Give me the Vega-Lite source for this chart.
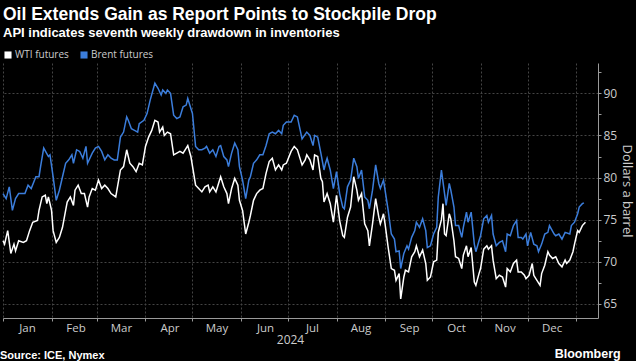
{
  "$schema": "https://vega.github.io/schema/vega-lite/v6.json",
  "background": "#000000",
  "padding": {"left": 0, "right": 3, "top": 5, "bottom": 0},
  "title": {
    "text": "Oil Extends Gain as Report Points to Stockpile Drop",
    "subtitle": "API indicates seventh weekly drawdown in inventories",
    "anchor": "start",
    "frame": "group",
    "font": "Liberation Sans",
    "fontSize": 17.5,
    "fontWeight": "bold",
    "color": "#ffffff",
    "subtitleFont": "Liberation Sans",
    "subtitleFontSize": 13,
    "subtitleFontWeight": "bold",
    "subtitleColor": "#ffffff",
    "subtitlePadding": 4,
    "offset": 10
  },
  "vconcat": [
    {
      "title": {
        "text": "Bloomberg",
        "orient": "bottom",
        "anchor": "end",
        "font": "Liberation Sans",
        "fontSize": 12.5,
        "fontWeight": "bold",
        "color": "#ffffff",
        "offset": -13,
        "dx": -12
      },
      "vconcat": [
        {
          "title": {
            "text": "Source: ICE, Nymex",
            "orient": "bottom",
            "anchor": "start",
            "font": "Liberation Sans",
            "fontSize": 11,
            "fontWeight": "bold",
            "color": "#ffffff",
            "offset": 4
          },
          "width": 595,
          "height": 255,
          "data": {
            "values": [
              {"date": "2024-01-01", "series": "Brent futures", "price": 78.1},
              {"date": "2024-01-03", "series": "Brent futures", "price": 77.5},
              {"date": "2024-01-05", "series": "Brent futures", "price": 78.9},
              {"date": "2024-01-07", "series": "Brent futures", "price": 76.1},
              {"date": "2024-01-09", "series": "Brent futures", "price": 77.5},
              {"date": "2024-01-11", "series": "Brent futures", "price": 78.1},
              {"date": "2024-01-15", "series": "Brent futures", "price": 78.1},
              {"date": "2024-01-17", "series": "Brent futures", "price": 79.1},
              {"date": "2024-01-19", "series": "Brent futures", "price": 78.7},
              {"date": "2024-01-22", "series": "Brent futures", "price": 80.1},
              {"date": "2024-01-24", "series": "Brent futures", "price": 80.1},
              {"date": "2024-01-25", "series": "Brent futures", "price": 81.3},
              {"date": "2024-01-27", "series": "Brent futures", "price": 83.5},
              {"date": "2024-01-30", "series": "Brent futures", "price": 82.5},
              {"date": "2024-01-31", "series": "Brent futures", "price": 82.7},
              {"date": "2024-02-02", "series": "Brent futures", "price": 80.1},
              {"date": "2024-02-04", "series": "Brent futures", "price": 77.3},
              {"date": "2024-02-06", "series": "Brent futures", "price": 78.5},
              {"date": "2024-02-08", "series": "Brent futures", "price": 80.1},
              {"date": "2024-02-10", "series": "Brent futures", "price": 81.7},
              {"date": "2024-02-12", "series": "Brent futures", "price": 82.1},
              {"date": "2024-02-14", "series": "Brent futures", "price": 82.7},
              {"date": "2024-02-15", "series": "Brent futures", "price": 81.7},
              {"date": "2024-02-17", "series": "Brent futures", "price": 83.3},
              {"date": "2024-02-19", "series": "Brent futures", "price": 83.1},
              {"date": "2024-02-21", "series": "Brent futures", "price": 82.3},
              {"date": "2024-02-23", "series": "Brent futures", "price": 83.7},
              {"date": "2024-02-24", "series": "Brent futures", "price": 81.7},
              {"date": "2024-02-27", "series": "Brent futures", "price": 82.9},
              {"date": "2024-02-29", "series": "Brent futures", "price": 83.5},
              {"date": "2024-03-02", "series": "Brent futures", "price": 83.7},
              {"date": "2024-03-04", "series": "Brent futures", "price": 83.1},
              {"date": "2024-03-06", "series": "Brent futures", "price": 82.1},
              {"date": "2024-03-08", "series": "Brent futures", "price": 82.7},
              {"date": "2024-03-10", "series": "Brent futures", "price": 82.3},
              {"date": "2024-03-12", "series": "Brent futures", "price": 82.1},
              {"date": "2024-03-14", "series": "Brent futures", "price": 82.1},
              {"date": "2024-03-16", "series": "Brent futures", "price": 84.8},
              {"date": "2024-03-18", "series": "Brent futures", "price": 85.4},
              {"date": "2024-03-20", "series": "Brent futures", "price": 87.2},
              {"date": "2024-03-21", "series": "Brent futures", "price": 86.8},
              {"date": "2024-03-23", "series": "Brent futures", "price": 85.8},
              {"date": "2024-03-25", "series": "Brent futures", "price": 85.6},
              {"date": "2024-03-27", "series": "Brent futures", "price": 85.4},
              {"date": "2024-03-28", "series": "Brent futures", "price": 86.4},
              {"date": "2024-03-31", "series": "Brent futures", "price": 86.8},
              {"date": "2024-04-02", "series": "Brent futures", "price": 87.6},
              {"date": "2024-04-04", "series": "Brent futures", "price": 89.2},
              {"date": "2024-04-07", "series": "Brent futures", "price": 91.2},
              {"date": "2024-04-09", "series": "Brent futures", "price": 90.6},
              {"date": "2024-04-11", "series": "Brent futures", "price": 89.8},
              {"date": "2024-04-12", "series": "Brent futures", "price": 90.4},
              {"date": "2024-04-14", "series": "Brent futures", "price": 90.0},
              {"date": "2024-04-15", "series": "Brent futures", "price": 90.4},
              {"date": "2024-04-17", "series": "Brent futures", "price": 90.0},
              {"date": "2024-04-19", "series": "Brent futures", "price": 87.4},
              {"date": "2024-04-21", "series": "Brent futures", "price": 87.0},
              {"date": "2024-04-23", "series": "Brent futures", "price": 87.2},
              {"date": "2024-04-25", "series": "Brent futures", "price": 88.4},
              {"date": "2024-04-27", "series": "Brent futures", "price": 88.6},
              {"date": "2024-04-28", "series": "Brent futures", "price": 89.4},
              {"date": "2024-04-29", "series": "Brent futures", "price": 88.8},
              {"date": "2024-05-01", "series": "Brent futures", "price": 87.6},
              {"date": "2024-05-03", "series": "Brent futures", "price": 83.7},
              {"date": "2024-05-05", "series": "Brent futures", "price": 83.3},
              {"date": "2024-05-07", "series": "Brent futures", "price": 83.3},
              {"date": "2024-05-09", "series": "Brent futures", "price": 83.5},
              {"date": "2024-05-10", "series": "Brent futures", "price": 83.7},
              {"date": "2024-05-12", "series": "Brent futures", "price": 82.9},
              {"date": "2024-05-14", "series": "Brent futures", "price": 83.3},
              {"date": "2024-05-16", "series": "Brent futures", "price": 82.5},
              {"date": "2024-05-18", "series": "Brent futures", "price": 83.7},
              {"date": "2024-05-19", "series": "Brent futures", "price": 83.8},
              {"date": "2024-05-21", "series": "Brent futures", "price": 82.5},
              {"date": "2024-05-23", "series": "Brent futures", "price": 82.1},
              {"date": "2024-05-24", "series": "Brent futures", "price": 81.3},
              {"date": "2024-05-26", "series": "Brent futures", "price": 82.9},
              {"date": "2024-05-28", "series": "Brent futures", "price": 84.1},
              {"date": "2024-05-30", "series": "Brent futures", "price": 83.3},
              {"date": "2024-05-31", "series": "Brent futures", "price": 81.3},
              {"date": "2024-06-02", "series": "Brent futures", "price": 79.7},
              {"date": "2024-06-04", "series": "Brent futures", "price": 77.5},
              {"date": "2024-06-06", "series": "Brent futures", "price": 79.7},
              {"date": "2024-06-07", "series": "Brent futures", "price": 80.1},
              {"date": "2024-06-09", "series": "Brent futures", "price": 81.7},
              {"date": "2024-06-11", "series": "Brent futures", "price": 82.1},
              {"date": "2024-06-13", "series": "Brent futures", "price": 82.7},
              {"date": "2024-06-15", "series": "Brent futures", "price": 82.7},
              {"date": "2024-06-17", "series": "Brent futures", "price": 83.8},
              {"date": "2024-06-19", "series": "Brent futures", "price": 85.2},
              {"date": "2024-06-21", "series": "Brent futures", "price": 85.4},
              {"date": "2024-06-23", "series": "Brent futures", "price": 85.2},
              {"date": "2024-06-25", "series": "Brent futures", "price": 85.6},
              {"date": "2024-06-27", "series": "Brent futures", "price": 85.2},
              {"date": "2024-06-28", "series": "Brent futures", "price": 86.2},
              {"date": "2024-06-30", "series": "Brent futures", "price": 86.6},
              {"date": "2024-07-03", "series": "Brent futures", "price": 86.6},
              {"date": "2024-07-05", "series": "Brent futures", "price": 87.4},
              {"date": "2024-07-07", "series": "Brent futures", "price": 87.2},
              {"date": "2024-07-10", "series": "Brent futures", "price": 84.6},
              {"date": "2024-07-13", "series": "Brent futures", "price": 85.4},
              {"date": "2024-07-15", "series": "Brent futures", "price": 85.0},
              {"date": "2024-07-17", "series": "Brent futures", "price": 83.8},
              {"date": "2024-07-18", "series": "Brent futures", "price": 85.0},
              {"date": "2024-07-20", "series": "Brent futures", "price": 84.8},
              {"date": "2024-07-22", "series": "Brent futures", "price": 82.9},
              {"date": "2024-07-24", "series": "Brent futures", "price": 80.9},
              {"date": "2024-07-25", "series": "Brent futures", "price": 81.7},
              {"date": "2024-07-26", "series": "Brent futures", "price": 82.3},
              {"date": "2024-07-28", "series": "Brent futures", "price": 80.9},
              {"date": "2024-07-30", "series": "Brent futures", "price": 78.7},
              {"date": "2024-08-01", "series": "Brent futures", "price": 80.7},
              {"date": "2024-08-03", "series": "Brent futures", "price": 78.1},
              {"date": "2024-08-05", "series": "Brent futures", "price": 76.5},
              {"date": "2024-08-06", "series": "Brent futures", "price": 76.3},
              {"date": "2024-08-08", "series": "Brent futures", "price": 78.9},
              {"date": "2024-08-10", "series": "Brent futures", "price": 79.7},
              {"date": "2024-08-12", "series": "Brent futures", "price": 82.3},
              {"date": "2024-08-14", "series": "Brent futures", "price": 81.3},
              {"date": "2024-08-15", "series": "Brent futures", "price": 79.9},
              {"date": "2024-08-17", "series": "Brent futures", "price": 80.9},
              {"date": "2024-08-19", "series": "Brent futures", "price": 77.7},
              {"date": "2024-08-21", "series": "Brent futures", "price": 77.3},
              {"date": "2024-08-22", "series": "Brent futures", "price": 76.3},
              {"date": "2024-08-24", "series": "Brent futures", "price": 78.5},
              {"date": "2024-08-26", "series": "Brent futures", "price": 81.5},
              {"date": "2024-08-28", "series": "Brent futures", "price": 79.3},
              {"date": "2024-08-29", "series": "Brent futures", "price": 78.7},
              {"date": "2024-08-31", "series": "Brent futures", "price": 79.7},
              {"date": "2024-09-01", "series": "Brent futures", "price": 78.5},
              {"date": "2024-09-03", "series": "Brent futures", "price": 76.1},
              {"date": "2024-09-05", "series": "Brent futures", "price": 73.3},
              {"date": "2024-09-07", "series": "Brent futures", "price": 72.7},
              {"date": "2024-09-08", "series": "Brent futures", "price": 71.2},
              {"date": "2024-09-10", "series": "Brent futures", "price": 71.3},
              {"date": "2024-09-11", "series": "Brent futures", "price": 69.2},
              {"date": "2024-09-13", "series": "Brent futures", "price": 71.0},
              {"date": "2024-09-15", "series": "Brent futures", "price": 71.9},
              {"date": "2024-09-16", "series": "Brent futures", "price": 71.5},
              {"date": "2024-09-18", "series": "Brent futures", "price": 72.9},
              {"date": "2024-09-20", "series": "Brent futures", "price": 73.7},
              {"date": "2024-09-21", "series": "Brent futures", "price": 74.7},
              {"date": "2024-09-23", "series": "Brent futures", "price": 74.1},
              {"date": "2024-09-25", "series": "Brent futures", "price": 75.1},
              {"date": "2024-09-27", "series": "Brent futures", "price": 73.7},
              {"date": "2024-09-28", "series": "Brent futures", "price": 71.7},
              {"date": "2024-09-30", "series": "Brent futures", "price": 71.9},
              {"date": "2024-10-02", "series": "Brent futures", "price": 73.3},
              {"date": "2024-10-04", "series": "Brent futures", "price": 74.1},
              {"date": "2024-10-05", "series": "Brent futures", "price": 77.7},
              {"date": "2024-10-07", "series": "Brent futures", "price": 80.9},
              {"date": "2024-10-09", "series": "Brent futures", "price": 78.1},
              {"date": "2024-10-10", "series": "Brent futures", "price": 76.7},
              {"date": "2024-10-12", "series": "Brent futures", "price": 79.3},
              {"date": "2024-10-13", "series": "Brent futures", "price": 78.5},
              {"date": "2024-10-15", "series": "Brent futures", "price": 76.5},
              {"date": "2024-10-16", "series": "Brent futures", "price": 74.3},
              {"date": "2024-10-18", "series": "Brent futures", "price": 74.3},
              {"date": "2024-10-20", "series": "Brent futures", "price": 72.9},
              {"date": "2024-10-21", "series": "Brent futures", "price": 74.1},
              {"date": "2024-10-23", "series": "Brent futures", "price": 75.9},
              {"date": "2024-10-24", "series": "Brent futures", "price": 74.7},
              {"date": "2024-10-26", "series": "Brent futures", "price": 75.9},
              {"date": "2024-10-28", "series": "Brent futures", "price": 72.1},
              {"date": "2024-10-29", "series": "Brent futures", "price": 71.2},
              {"date": "2024-10-31", "series": "Brent futures", "price": 72.5},
              {"date": "2024-11-01", "series": "Brent futures", "price": 73.1},
              {"date": "2024-11-03", "series": "Brent futures", "price": 75.1},
              {"date": "2024-11-05", "series": "Brent futures", "price": 75.5},
              {"date": "2024-11-06", "series": "Brent futures", "price": 74.7},
              {"date": "2024-11-08", "series": "Brent futures", "price": 75.5},
              {"date": "2024-11-09", "series": "Brent futures", "price": 73.3},
              {"date": "2024-11-11", "series": "Brent futures", "price": 71.9},
              {"date": "2024-11-13", "series": "Brent futures", "price": 72.3},
              {"date": "2024-11-15", "series": "Brent futures", "price": 72.5},
              {"date": "2024-11-17", "series": "Brent futures", "price": 71.2},
              {"date": "2024-11-18", "series": "Brent futures", "price": 73.3},
              {"date": "2024-11-20", "series": "Brent futures", "price": 73.1},
              {"date": "2024-11-22", "series": "Brent futures", "price": 74.3},
              {"date": "2024-11-24", "series": "Brent futures", "price": 74.9},
              {"date": "2024-11-25", "series": "Brent futures", "price": 72.9},
              {"date": "2024-11-27", "series": "Brent futures", "price": 72.9},
              {"date": "2024-11-28", "series": "Brent futures", "price": 72.7},
              {"date": "2024-11-30", "series": "Brent futures", "price": 73.3},
              {"date": "2024-12-01", "series": "Brent futures", "price": 71.9},
              {"date": "2024-12-03", "series": "Brent futures", "price": 73.5},
              {"date": "2024-12-05", "series": "Brent futures", "price": 72.1},
              {"date": "2024-12-07", "series": "Brent futures", "price": 71.9},
              {"date": "2024-12-08", "series": "Brent futures", "price": 71.2},
              {"date": "2024-12-10", "series": "Brent futures", "price": 72.1},
              {"date": "2024-12-12", "series": "Brent futures", "price": 73.3},
              {"date": "2024-12-14", "series": "Brent futures", "price": 73.5},
              {"date": "2024-12-15", "series": "Brent futures", "price": 74.3},
              {"date": "2024-12-18", "series": "Brent futures", "price": 73.3},
              {"date": "2024-12-19", "series": "Brent futures", "price": 73.1},
              {"date": "2024-12-21", "series": "Brent futures", "price": 73.3},
              {"date": "2024-12-23", "series": "Brent futures", "price": 72.7},
              {"date": "2024-12-25", "series": "Brent futures", "price": 73.5},
              {"date": "2024-12-28", "series": "Brent futures", "price": 73.3},
              {"date": "2024-12-29", "series": "Brent futures", "price": 74.3},
              {"date": "2024-12-31", "series": "Brent futures", "price": 74.7},
              {"date": "2025-01-02", "series": "Brent futures", "price": 75.7},
              {"date": "2025-01-03", "series": "Brent futures", "price": 76.5},
              {"date": "2025-01-05", "series": "Brent futures", "price": 76.9},
              {"date": "2025-01-06", "series": "Brent futures", "price": 77.0},
              {"date": "2024-01-01", "series": "WTI futures", "price": 72.5},
              {"date": "2024-01-02", "series": "WTI futures", "price": 72.1},
              {"date": "2024-01-04", "series": "WTI futures", "price": 73.7},
              {"date": "2024-01-06", "series": "WTI futures", "price": 71.0},
              {"date": "2024-01-08", "series": "WTI futures", "price": 72.1},
              {"date": "2024-01-09", "series": "WTI futures", "price": 71.3},
              {"date": "2024-01-11", "series": "WTI futures", "price": 72.5},
              {"date": "2024-01-14", "series": "WTI futures", "price": 72.3},
              {"date": "2024-01-16", "series": "WTI futures", "price": 72.5},
              {"date": "2024-01-18", "series": "WTI futures", "price": 73.7},
              {"date": "2024-01-20", "series": "WTI futures", "price": 74.7},
              {"date": "2024-01-23", "series": "WTI futures", "price": 74.9},
              {"date": "2024-01-24", "series": "WTI futures", "price": 76.1},
              {"date": "2024-01-26", "series": "WTI futures", "price": 77.7},
              {"date": "2024-01-28", "series": "WTI futures", "price": 77.9},
              {"date": "2024-01-29", "series": "WTI futures", "price": 76.9},
              {"date": "2024-01-30", "series": "WTI futures", "price": 77.7},
              {"date": "2024-02-01", "series": "WTI futures", "price": 76.1},
              {"date": "2024-02-02", "series": "WTI futures", "price": 73.7},
              {"date": "2024-02-04", "series": "WTI futures", "price": 72.3},
              {"date": "2024-02-06", "series": "WTI futures", "price": 72.9},
              {"date": "2024-02-08", "series": "WTI futures", "price": 74.1},
              {"date": "2024-02-10", "series": "WTI futures", "price": 76.1},
              {"date": "2024-02-11", "series": "WTI futures", "price": 77.1},
              {"date": "2024-02-13", "series": "WTI futures", "price": 77.7},
              {"date": "2024-02-15", "series": "WTI futures", "price": 76.7},
              {"date": "2024-02-16", "series": "WTI futures", "price": 78.5},
              {"date": "2024-02-18", "series": "WTI futures", "price": 79.1},
              {"date": "2024-02-20", "series": "WTI futures", "price": 78.1},
              {"date": "2024-02-22", "series": "WTI futures", "price": 78.1},
              {"date": "2024-02-24", "series": "WTI futures", "price": 76.5},
              {"date": "2024-02-25", "series": "WTI futures", "price": 77.7},
              {"date": "2024-02-27", "series": "WTI futures", "price": 78.7},
              {"date": "2024-02-29", "series": "WTI futures", "price": 78.5},
              {"date": "2024-03-02", "series": "WTI futures", "price": 79.7},
              {"date": "2024-03-04", "series": "WTI futures", "price": 78.7},
              {"date": "2024-03-06", "series": "WTI futures", "price": 79.1},
              {"date": "2024-03-08", "series": "WTI futures", "price": 78.7},
              {"date": "2024-03-10", "series": "WTI futures", "price": 78.1},
              {"date": "2024-03-13", "series": "WTI futures", "price": 77.7},
              {"date": "2024-03-16", "series": "WTI futures", "price": 80.9},
              {"date": "2024-03-18", "series": "WTI futures", "price": 81.3},
              {"date": "2024-03-20", "series": "WTI futures", "price": 83.3},
              {"date": "2024-03-22", "series": "WTI futures", "price": 81.7},
              {"date": "2024-03-24", "series": "WTI futures", "price": 81.3},
              {"date": "2024-03-26", "series": "WTI futures", "price": 80.7},
              {"date": "2024-03-28", "series": "WTI futures", "price": 81.7},
              {"date": "2024-03-30", "series": "WTI futures", "price": 81.5},
              {"date": "2024-04-01", "series": "WTI futures", "price": 83.7},
              {"date": "2024-04-03", "series": "WTI futures", "price": 84.8},
              {"date": "2024-04-05", "series": "WTI futures", "price": 85.6},
              {"date": "2024-04-07", "series": "WTI futures", "price": 86.8},
              {"date": "2024-04-09", "series": "WTI futures", "price": 86.6},
              {"date": "2024-04-10", "series": "WTI futures", "price": 85.4},
              {"date": "2024-04-12", "series": "WTI futures", "price": 86.0},
              {"date": "2024-04-13", "series": "WTI futures", "price": 85.0},
              {"date": "2024-04-15", "series": "WTI futures", "price": 85.4},
              {"date": "2024-04-17", "series": "WTI futures", "price": 85.2},
              {"date": "2024-04-19", "series": "WTI futures", "price": 82.7},
              {"date": "2024-04-21", "series": "WTI futures", "price": 82.9},
              {"date": "2024-04-23", "series": "WTI futures", "price": 83.1},
              {"date": "2024-04-25", "series": "WTI futures", "price": 82.9},
              {"date": "2024-04-27", "series": "WTI futures", "price": 83.5},
              {"date": "2024-04-28", "series": "WTI futures", "price": 83.8},
              {"date": "2024-04-30", "series": "WTI futures", "price": 82.5},
              {"date": "2024-05-03", "series": "WTI futures", "price": 79.1},
              {"date": "2024-05-05", "series": "WTI futures", "price": 78.7},
              {"date": "2024-05-07", "series": "WTI futures", "price": 78.3},
              {"date": "2024-05-09", "series": "WTI futures", "price": 78.9},
              {"date": "2024-05-11", "series": "WTI futures", "price": 79.1},
              {"date": "2024-05-12", "series": "WTI futures", "price": 78.3},
              {"date": "2024-05-14", "series": "WTI futures", "price": 78.9},
              {"date": "2024-05-16", "series": "WTI futures", "price": 78.3},
              {"date": "2024-05-18", "series": "WTI futures", "price": 79.5},
              {"date": "2024-05-19", "series": "WTI futures", "price": 80.1},
              {"date": "2024-05-21", "series": "WTI futures", "price": 78.9},
              {"date": "2024-05-23", "series": "WTI futures", "price": 78.1},
              {"date": "2024-05-24", "series": "WTI futures", "price": 76.9},
              {"date": "2024-05-26", "series": "WTI futures", "price": 78.7},
              {"date": "2024-05-28", "series": "WTI futures", "price": 79.9},
              {"date": "2024-05-30", "series": "WTI futures", "price": 79.1},
              {"date": "2024-05-31", "series": "WTI futures", "price": 77.3},
              {"date": "2024-06-02", "series": "WTI futures", "price": 76.1},
              {"date": "2024-06-04", "series": "WTI futures", "price": 73.3},
              {"date": "2024-06-06", "series": "WTI futures", "price": 74.7},
              {"date": "2024-06-07", "series": "WTI futures", "price": 75.5},
              {"date": "2024-06-09", "series": "WTI futures", "price": 77.3},
              {"date": "2024-06-11", "series": "WTI futures", "price": 78.1},
              {"date": "2024-06-13", "series": "WTI futures", "price": 78.5},
              {"date": "2024-06-15", "series": "WTI futures", "price": 78.7},
              {"date": "2024-06-17", "series": "WTI futures", "price": 80.5},
              {"date": "2024-06-19", "series": "WTI futures", "price": 81.9},
              {"date": "2024-06-21", "series": "WTI futures", "price": 82.3},
              {"date": "2024-06-23", "series": "WTI futures", "price": 80.9},
              {"date": "2024-06-25", "series": "WTI futures", "price": 81.5},
              {"date": "2024-06-27", "series": "WTI futures", "price": 80.9},
              {"date": "2024-06-28", "series": "WTI futures", "price": 81.5},
              {"date": "2024-06-30", "series": "WTI futures", "price": 81.7},
              {"date": "2024-07-03", "series": "WTI futures", "price": 83.1},
              {"date": "2024-07-05", "series": "WTI futures", "price": 83.7},
              {"date": "2024-07-07", "series": "WTI futures", "price": 83.3},
              {"date": "2024-07-10", "series": "WTI futures", "price": 81.5},
              {"date": "2024-07-12", "series": "WTI futures", "price": 82.1},
              {"date": "2024-07-13", "series": "WTI futures", "price": 82.7},
              {"date": "2024-07-15", "series": "WTI futures", "price": 82.1},
              {"date": "2024-07-17", "series": "WTI futures", "price": 80.9},
              {"date": "2024-07-18", "series": "WTI futures", "price": 82.7},
              {"date": "2024-07-20", "series": "WTI futures", "price": 82.5},
              {"date": "2024-07-22", "series": "WTI futures", "price": 79.9},
              {"date": "2024-07-23", "series": "WTI futures", "price": 79.5},
              {"date": "2024-07-24", "series": "WTI futures", "price": 77.1},
              {"date": "2024-07-26", "series": "WTI futures", "price": 78.1},
              {"date": "2024-07-28", "series": "WTI futures", "price": 76.9},
              {"date": "2024-07-30", "series": "WTI futures", "price": 74.7},
              {"date": "2024-08-01", "series": "WTI futures", "price": 77.9},
              {"date": "2024-08-03", "series": "WTI futures", "price": 74.9},
              {"date": "2024-08-05", "series": "WTI futures", "price": 73.1},
              {"date": "2024-08-06", "series": "WTI futures", "price": 72.9},
              {"date": "2024-08-08", "series": "WTI futures", "price": 75.3},
              {"date": "2024-08-10", "series": "WTI futures", "price": 76.5},
              {"date": "2024-08-12", "series": "WTI futures", "price": 80.1},
              {"date": "2024-08-14", "series": "WTI futures", "price": 78.5},
              {"date": "2024-08-15", "series": "WTI futures", "price": 77.3},
              {"date": "2024-08-17", "series": "WTI futures", "price": 78.1},
              {"date": "2024-08-19", "series": "WTI futures", "price": 74.5},
              {"date": "2024-08-21", "series": "WTI futures", "price": 73.7},
              {"date": "2024-08-22", "series": "WTI futures", "price": 71.9},
              {"date": "2024-08-24", "series": "WTI futures", "price": 74.5},
              {"date": "2024-08-26", "series": "WTI futures", "price": 77.5},
              {"date": "2024-08-28", "series": "WTI futures", "price": 75.3},
              {"date": "2024-08-29", "series": "WTI futures", "price": 74.5},
              {"date": "2024-08-31", "series": "WTI futures", "price": 75.7},
              {"date": "2024-09-01", "series": "WTI futures", "price": 74.5},
              {"date": "2024-09-03", "series": "WTI futures", "price": 71.7},
              {"date": "2024-09-05", "series": "WTI futures", "price": 69.2},
              {"date": "2024-09-07", "series": "WTI futures", "price": 69.0},
              {"date": "2024-09-08", "series": "WTI futures", "price": 67.8},
              {"date": "2024-09-10", "series": "WTI futures", "price": 68.6},
              {"date": "2024-09-11", "series": "WTI futures", "price": 65.6},
              {"date": "2024-09-13", "series": "WTI futures", "price": 68.2},
              {"date": "2024-09-14", "series": "WTI futures", "price": 69.0},
              {"date": "2024-09-16", "series": "WTI futures", "price": 68.8},
              {"date": "2024-09-18", "series": "WTI futures", "price": 70.6},
              {"date": "2024-09-20", "series": "WTI futures", "price": 71.2},
              {"date": "2024-09-21", "series": "WTI futures", "price": 71.9},
              {"date": "2024-09-23", "series": "WTI futures", "price": 70.6},
              {"date": "2024-09-25", "series": "WTI futures", "price": 71.4},
              {"date": "2024-09-27", "series": "WTI futures", "price": 69.8},
              {"date": "2024-09-28", "series": "WTI futures", "price": 67.8},
              {"date": "2024-09-30", "series": "WTI futures", "price": 68.2},
              {"date": "2024-10-02", "series": "WTI futures", "price": 70.0},
              {"date": "2024-10-04", "series": "WTI futures", "price": 70.2},
              {"date": "2024-10-05", "series": "WTI futures", "price": 73.5},
              {"date": "2024-10-07", "series": "WTI futures", "price": 75.0},
              {"date": "2024-10-08", "series": "WTI futures", "price": 76.9},
              {"date": "2024-10-09", "series": "WTI futures", "price": 73.3},
              {"date": "2024-10-10", "series": "WTI futures", "price": 73.1},
              {"date": "2024-10-12", "series": "WTI futures", "price": 75.7},
              {"date": "2024-10-13", "series": "WTI futures", "price": 75.1},
              {"date": "2024-10-15", "series": "WTI futures", "price": 72.5},
              {"date": "2024-10-16", "series": "WTI futures", "price": 70.6},
              {"date": "2024-10-18", "series": "WTI futures", "price": 70.4},
              {"date": "2024-10-20", "series": "WTI futures", "price": 69.2},
              {"date": "2024-10-21", "series": "WTI futures", "price": 70.8},
              {"date": "2024-10-23", "series": "WTI futures", "price": 71.9},
              {"date": "2024-10-24", "series": "WTI futures", "price": 70.6},
              {"date": "2024-10-26", "series": "WTI futures", "price": 71.7},
              {"date": "2024-10-28", "series": "WTI futures", "price": 67.6},
              {"date": "2024-10-29", "series": "WTI futures", "price": 67.2},
              {"date": "2024-10-31", "series": "WTI futures", "price": 68.6},
              {"date": "2024-11-01", "series": "WTI futures", "price": 69.2},
              {"date": "2024-11-03", "series": "WTI futures", "price": 71.5},
              {"date": "2024-11-05", "series": "WTI futures", "price": 71.9},
              {"date": "2024-11-06", "series": "WTI futures", "price": 71.5},
              {"date": "2024-11-08", "series": "WTI futures", "price": 71.9},
              {"date": "2024-11-09", "series": "WTI futures", "price": 70.2},
              {"date": "2024-11-11", "series": "WTI futures", "price": 68.0},
              {"date": "2024-11-13", "series": "WTI futures", "price": 68.4},
              {"date": "2024-11-15", "series": "WTI futures", "price": 68.2},
              {"date": "2024-11-17", "series": "WTI futures", "price": 67.0},
              {"date": "2024-11-18", "series": "WTI futures", "price": 69.2},
              {"date": "2024-11-20", "series": "WTI futures", "price": 68.8},
              {"date": "2024-11-22", "series": "WTI futures", "price": 69.8},
              {"date": "2024-11-24", "series": "WTI futures", "price": 70.2},
              {"date": "2024-11-25", "series": "WTI futures", "price": 68.8},
              {"date": "2024-11-27", "series": "WTI futures", "price": 68.8},
              {"date": "2024-11-29", "series": "WTI futures", "price": 68.4},
              {"date": "2024-11-30", "series": "WTI futures", "price": 68.0},
              {"date": "2024-12-02", "series": "WTI futures", "price": 68.4},
              {"date": "2024-12-04", "series": "WTI futures", "price": 69.8},
              {"date": "2024-12-05", "series": "WTI futures", "price": 68.4},
              {"date": "2024-12-07", "series": "WTI futures", "price": 67.8},
              {"date": "2024-12-09", "series": "WTI futures", "price": 67.2},
              {"date": "2024-12-10", "series": "WTI futures", "price": 68.6},
              {"date": "2024-12-12", "series": "WTI futures", "price": 69.6},
              {"date": "2024-12-14", "series": "WTI futures", "price": 71.2},
              {"date": "2024-12-15", "series": "WTI futures", "price": 70.8},
              {"date": "2024-12-17", "series": "WTI futures", "price": 70.4},
              {"date": "2024-12-19", "series": "WTI futures", "price": 70.6},
              {"date": "2024-12-21", "series": "WTI futures", "price": 69.8},
              {"date": "2024-12-23", "series": "WTI futures", "price": 69.4},
              {"date": "2024-12-25", "series": "WTI futures", "price": 70.2},
              {"date": "2024-12-26", "series": "WTI futures", "price": 69.8},
              {"date": "2024-12-28", "series": "WTI futures", "price": 70.2},
              {"date": "2024-12-30", "series": "WTI futures", "price": 71.2},
              {"date": "2024-12-31", "series": "WTI futures", "price": 72.1},
              {"date": "2025-01-02", "series": "WTI futures", "price": 73.7},
              {"date": "2025-01-03", "series": "WTI futures", "price": 73.5},
              {"date": "2025-01-05", "series": "WTI futures", "price": 74.3},
              {"date": "2025-01-07", "series": "WTI futures", "price": 74.7}
            ]
          },
          "mark": {"type": "line", "strokeWidth": 1.5},
          "encoding": {
            "x": {
              "field": "date",
              "type": "temporal",
              "scale": {
                "type": "utc",
                "domain": [
                  {"year": 2024, "month": 1, "date": 1, "utc": true},
                  {"year": 2025, "month": 1, "date": 15, "utc": true}
                ]
              },
              "axis": {
                "title": "2024",
                "values": [
                  {"year": 2024, "month": 1, "date": 1, "utc": true},
                  {"year": 2024, "month": 2, "date": 1, "utc": true},
                  {"year": 2024, "month": 3, "date": 1, "utc": true},
                  {"year": 2024, "month": 4, "date": 1, "utc": true},
                  {"year": 2024, "month": 5, "date": 1, "utc": true},
                  {"year": 2024, "month": 6, "date": 1, "utc": true},
                  {"year": 2024, "month": 7, "date": 1, "utc": true},
                  {"year": 2024, "month": 8, "date": 1, "utc": true},
                  {"year": 2024, "month": 9, "date": 1, "utc": true},
                  {"year": 2024, "month": 10, "date": 1, "utc": true},
                  {"year": 2024, "month": 11, "date": 1, "utc": true},
                  {"year": 2024, "month": 12, "date": 1, "utc": true},
                  {"year": 2025, "month": 1, "date": 1, "utc": true}
                ],
                "labelExpr": "utcyear(datum.value) > 2024 ? '' : utcFormat(datum.value, '%b')",
                "labelAlign": "center",
                "labelOffset": 24,
                "labelBound": false,
                "labelFlush": false,
                "labelOverlap": false,
                "labelFontSize": 11.5,
                "labelPadding": 1,
                "tickSize": 3,
                "titleFontSize": 12,
                "titlePadding": 1,
                "titleX": 287
              }
            },
            "y": {
              "field": "price",
              "type": "quantitative",
              "scale": {"domain": [63.33, 93.6], "nice": false, "zero": false},
              "axis": {
                "orient": "right",
                "title": "Dollars a barrel",
                "values": [65, 67.5, 70, 72.5, 75, 77.5, 80, 82.5, 85, 87.5, 90, 92.5],
                "labelExpr": "datum.value % 5 == 0 ? datum.label : ''",
                "gridOpacity": {"condition": {"test": "datum.value % 5 != 0", "value": 0}, "value": 1},
                "labelFontSize": 12,
                "labelPadding": 2,
                "tickSize": 3,
                "titleFontSize": 13,
                "titlePadding": 3
              }
            },
            "color": {
              "field": "series",
              "type": "nominal",
              "scale": {"domain": ["WTI futures", "Brent futures"], "range": ["#ffffff", "#3b7ddb"]},
              "legend": {
                "orient": "top",
                "direction": "horizontal",
                "title": null,
                "symbolType": "square",
                "symbolSize": 50,
                "symbolStrokeWidth": 0,
                "labelFontSize": 10,
                "labelColor": "#cccccc",
                "labelFont": "Open Sans",
                "labelOffset": 2,
                "columnPadding": 10,
                "offset": 3,
                "padding": 0,
                "encode": {"symbols": {"update": {"fill": {"scale": "color", "field": "value"}}}}
              }
            }
          }
        }
      ]
    }
  ],
  "config": {
    "view": {"stroke": null},
    "font": "Open Sans",
    "axis": {
      "labelColor": "#cccccc",
      "titleColor": "#cccccc",
      "titleFontWeight": "normal",
      "labelFont": "Open Sans",
      "titleFont": "Open Sans",
      "domainColor": "#9a9a9a",
      "tickColor": "#9a9a9a",
      "gridColor": "#444444",
      "gridDash": [2, 2],
      "gridWidth": 1
    }
  }
}
